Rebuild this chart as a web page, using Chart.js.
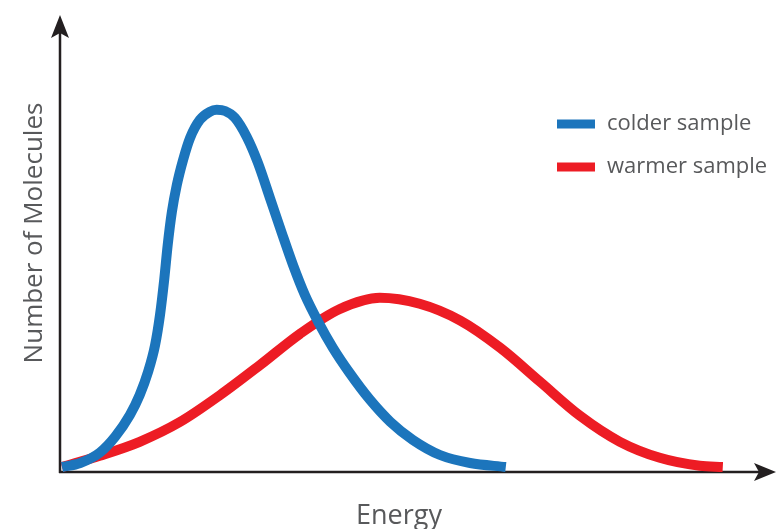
<!DOCTYPE html>
<html>
<head>
<meta charset="utf-8">
<script src="https://cdn.jsdelivr.net/npm/chart.js@4/dist/chart.umd.min.js"></script>
<style>
html,body{margin:0;padding:0;background:#fff;}
#wrap{width:777px;height:529px;}
</style>
</head>
<body>
<div id="wrap"><canvas id="c" width="777" height="529"></canvas></div>
<script>
// Data (energy in arbitrary units 0-100, molecule count in arbitrary units 0-100)
const seriesNames = ["colder sample", "warmer sample"];
const xAxisTitle = "Energy";
const yAxisTitle = "Number of Molecules";

const colderEnergy = [0, 2.6, 5.4, 7.6, 9.7, 11.1, 12.3, 13.3, 14.0, 14.6, 15.1, 15.7, 16.4, 17.3, 18.3, 19.7, 21.1, 22.1, 23.3, 24.7, 26.4, 28.0, 29.7, 31.4, 33.0, 34.7, 36.6, 38.7, 41.1, 44.0, 46.9, 50.1, 54.0, 58.3, 63.4];
const colderCount  = [0, 1.0, 3.6, 7.6, 13.0, 18.0, 23.8, 30.5, 38.0, 46.8, 55.5, 63.8, 70.5, 76.8, 82.3, 86.8, 88.8, 89.3, 89.0, 87.3, 82.5, 76.0, 67.3, 58.5, 50.5, 43.0, 36.3, 29.8, 23.5, 16.8, 11.3, 6.8, 3.0, 1.0, 0];

const warmerEnergy = [0, 5.4, 11.1, 16.9, 22.6, 28.3, 34.0, 39.7, 45.4, 51.1, 56.9, 62.6, 68.3, 74.0, 79.7, 85.4, 91.1, 94.4];
const warmerCount  = [0, 2.8, 6.3, 11.3, 18.0, 25.5, 33.3, 39.5, 42.3, 40.8, 36.6, 29.8, 21.3, 12.8, 6.3, 2.3, 0.3, 0];

const seriesColors = ["#1c75bc", "#ed1c24"];

function pts(xs, ys){ return xs.map((x,i)=>({x:x, y:ys[i]})); }

const textColor = "#58595b";
const axisColor = "#231f20";
const fontFam = "'Open Sans', 'Noto Sans', sans-serif";

const decorPlugin = {
  id: 'decor',
  beforeDatasetsDraw(chart){
    const ctx = chart.ctx;
    const a = chart.chartArea;
    const ox = a.left - 2, oy = a.bottom + 5;
    ctx.save();
    ctx.strokeStyle = axisColor;
    ctx.fillStyle = axisColor;
    ctx.lineWidth = 2.5;
    ctx.beginPath(); ctx.moveTo(ox, oy + 1); ctx.lineTo(ox, 30); ctx.stroke();
    ctx.beginPath(); ctx.moveTo(ox - 1, oy); ctx.lineTo(765, oy); ctx.stroke();
    ctx.beginPath();
    ctx.moveTo(ox, 15); ctx.lineTo(ox + 9, 38); ctx.lineTo(ox, 33); ctx.lineTo(ox - 9, 38); ctx.closePath(); ctx.fill();
    ctx.beginPath();
    ctx.moveTo(776, oy); ctx.lineTo(754, oy - 9); ctx.lineTo(759, oy); ctx.lineTo(754, oy + 9); ctx.closePath(); ctx.fill();
    ctx.restore();
  },
  afterDraw(chart){
    const ctx = chart.ctx;
    ctx.save();
    ctx.fillStyle = textColor;
    ctx.font = "27px " + fontFam;
    ctx.textAlign = "center";
    ctx.textBaseline = "alphabetic";
    ctx.fillText(xAxisTitle, 399, 524);
    ctx.save();
    ctx.translate(42, 233);
    ctx.rotate(-Math.PI/2);
    ctx.font = "26px " + fontFam;
    ctx.fillText(yAxisTitle, 0, 0);
    ctx.restore();
    ctx.font = "22px " + fontFam;
    ctx.textAlign = "left";
    ctx.textBaseline = "middle";
    chart.data.datasets.forEach((ds, i) => {
      const cy = 124 + i * 43;
      ctx.fillStyle = ds.borderColor;
      ctx.fillRect(557, cy - 4.5, 38, 9);
      ctx.fillStyle = textColor;
      ctx.fillText(ds.label, 607, cy);
    });
    ctx.restore();
  }
};

new Chart(document.getElementById('c'), {
  type: 'line',
  data: {
    datasets: [
      { label: seriesNames[0], data: pts(colderEnergy, colderCount), borderColor: seriesColors[0] },
      { label: seriesNames[1], data: pts(warmerEnergy, warmerCount), borderColor: seriesColors[1] }
    ].map(d => Object.assign(d, {
      borderWidth: 10, pointRadius: 0, pointHoverRadius: 0, fill: false,
      cubicInterpolationMode: 'monotone', borderCapStyle: 'butt', borderJoinStyle: 'round', clip: false
    }))
  },
  options: {
    responsive: false,
    animation: false,
    events: [],
    layout: { padding: { left: 62, right: 15, top: 67, bottom: 62 } },
    plugins: { legend: { display: false }, tooltip: { enabled: false } },
    scales: {
      x: { type: 'linear', min: 0, max: 100, display: false },
      y: { type: 'linear', min: 0, max: 100, display: false }
    }
  },
  plugins: [decorPlugin]
});
</script>
</body>
</html>
